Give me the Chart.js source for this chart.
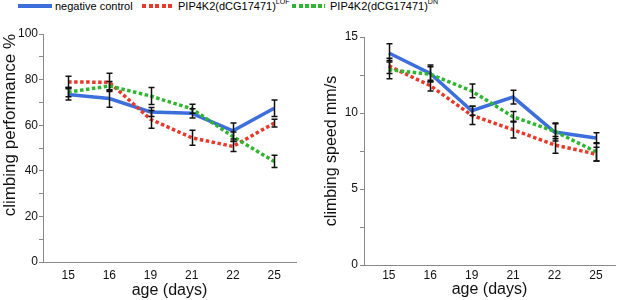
<!DOCTYPE html>
<html><head><meta charset="utf-8">
<script src="https://cdn.jsdelivr.net/npm/chart.js@4/dist/chart.umd.min.js"></script>
<style>
body{margin:0;width:617px;height:300px;background:#fff;overflow:hidden;position:relative;font-family:"Liberation Sans",Arial,sans-serif;}
canvas{position:absolute;top:0;}
#c1{left:0;}
#c2{left:305px;}
.leg{position:absolute;top:0;font-size:11px;line-height:13px;color:#000;white-space:nowrap;}
.sw{position:absolute;height:4px;top:4px;}
sup{font-size:7px;line-height:0;vertical-align:top;position:relative;top:2px;}
</style></head><body>
<div class="sw" style="left:18px;width:34px;background:#3c6fdc"></div>
<div class="leg" style="left:55px">negative control</div>
<div class="sw" style="left:142px;width:32px;background:repeating-linear-gradient(to right,#e83a2a 0 4px,transparent 4px 6.5px)"></div>
<div class="leg" style="left:178px">PIP4K2(dCG17471)<sup>LOF</sup></div>
<div class="sw" style="left:292px;width:33px;background:repeating-linear-gradient(to right,#2fb52f 0 4px,transparent 4px 6.5px)"></div>
<div class="leg" style="left:330px">PIP4K2(dCG17471)<sup>DN</sup></div>
<canvas id="c1" width="300" height="300"></canvas>
<canvas id="c2" width="312" height="300"></canvas>
<script>
const days = ['15', '16', '19', '21', '22', '25'];
const seriesNames = ['negative control', 'PIP4K2(dCG17471) LOF', 'PIP4K2(dCG17471) DN'];

// climbing performance %
const perfControl    = [73.5, 71.7, 65.8, 65.2, 57.5, 67.4];
const perfControlErr = [2.5, 3.8, 2.0, 2.0, 3.5, 3.6];
const perfLOF        = [79.0, 78.8, 62.6, 54.5, 50.7, 60.9];
const perfLOFErr     = [2.5, 4.0, 3.9, 3.3, 2.2, 1.7];
const perfDN         = [74.5, 77.2, 72.8, 67.2, 55.0, 44.1];
const perfDNErr      = [2.0, 2.0, 3.7, 2.0, 2.0, 2.7];

// climbing speed mm/s
const speedControl    = [13.95, 12.6, 10.15, 11.05, 8.75, 8.35];
const speedControlErr = [0.6, 0.55, 0.3, 0.45, 0.6, 0.35];
const speedLOF        = [13.1, 11.8, 9.85, 8.9, 7.9, 7.3];
const speedLOFErr     = [0.5, 0.35, 0.6, 0.55, 0.55, 0.45];
const speedDN         = [12.85, 12.55, 11.45, 9.75, 8.8, 7.45];
const speedDNErr      = [0.6, 0.5, 0.45, 0.35, 0.5, 0.6];

const perfTicks = [0, 20, 40, 60, 80, 100];
const speedTicks = [0, 5, 10, 15];

const BLUE = '#3c6fdc', RED = '#e83a2a', GREEN = '#2fb52f';
const FONT = '"Liberation Sans", Arial, sans-serif';

const toPts = arr => arr.map((v, i) => ({x: i, y: v}));

const errorBars = {
  id: 'errorBars',
  afterDatasetsDraw(chart) {
    const ctx = chart.ctx, xs = chart.scales.x, ys = chart.scales.y;
    ctx.save();
    ctx.strokeStyle = '#111';
    ctx.lineWidth = 1.5;
    chart.data.datasets.forEach(ds => {
      ds.data.forEach((p, i) => {
        const e = ds.errors[i];
        const x = Math.round(xs.getPixelForValue(p.x)) + 0.5;
        const y1 = ys.getPixelForValue(p.y + e), y2 = ys.getPixelForValue(p.y - e);
        ctx.beginPath();
        ctx.moveTo(x, y1); ctx.lineTo(x, y2);
        ctx.moveTo(x - 3, y1); ctx.lineTo(x + 3, y1);
        ctx.moveTo(x - 3, y2); ctx.lineTo(x + 3, y2);
        ctx.stroke();
      });
    });
    ctx.restore();
  }
};

function makeChart(id, sets, cfg) {
  const datasets = sets.map((s, k) => ({
    label: seriesNames[k],
    data: toPts(s.v),
    errors: s.e,
    borderColor: s.c,
    backgroundColor: s.c,
    borderWidth: 3.5,
    borderDash: k === 0 ? [] : [3.5, 2.5],
    borderCapStyle: 'butt',
    pointRadius: 0,
    tension: 0,
    order: 2 - k
  }));
  return new Chart(document.getElementById(id), {
    type: 'line',
    data: {datasets},
    plugins: [errorBars],
    options: {
      responsive: false, animation: false, devicePixelRatio: 1,
      layout: {padding: cfg.pad},
      plugins: {legend: {display: false}, tooltip: {enabled: false}},
      scales: {
        x: {
          type: 'linear', min: cfg.xmin, max: cfg.xmax,
          afterBuildTicks: sc => { sc.ticks = days.map((d, i) => ({value: i})); },
          afterFit: sc => { sc.height = cfg.xh; },
          grid: {display: false, drawTicks: false},
          border: {display: true, color: '#888', width: 1},
          ticks: {padding: cfg.xtp, color: '#111', font: {family: FONT, size: 12}, maxRotation: 0,
                  callback: v => days[v]},
          title: {display: true, text: 'age (days)', color: '#111', font: {family: FONT, size: 16},
                  padding: {top: 0, bottom: cfg.xtb}}
        },
        y: {
          min: 0, max: cfg.ymax,
          afterBuildTicks: sc => {
            const t = [];
            for (let v = 0; v <= cfg.ymax + 1e-9; v += cfg.step) t.push({value: v});
            sc.ticks = t;
          },
          afterFit: sc => { sc.width = cfg.yw; },
          grid: {display: true, drawOnChartArea: false, drawTicks: true, tickLength: 4, color: '#888'},
          border: {display: true, color: '#888', width: 1},
          ticks: {padding: cfg.ytp, color: '#111', font: {family: FONT, size: 12},
                  callback: v => cfg.labels.includes(v) ? String(v) : ''},
          title: {display: true, text: cfg.ytitle, color: '#111', align: cfg.yalign,
                  font: {family: FONT, size: cfg.yfs}, padding: {top: cfg.ytt, bottom: 0}}
        }
      }
    }
  });
}

makeChart('c1', [
  {v: perfControl, e: perfControlErr, c: BLUE},
  {v: perfLOF, e: perfLOFErr, c: RED},
  {v: perfDN, e: perfDNErr, c: GREEN}
], {pad: {top: 34, right: 4, left: 0, bottom: 0}, xmin: -0.61, xmax: 5.53, xh: 38, xtp: 6, xtb: 0,
    ymax: 100, step: 10, labels: perfTicks, yw: 43, ytp: 1, ytitle: 'climbing performance %',
    yalign: 'end', yfs: 17, ytt: 0});

makeChart('c2', [
  {v: speedControl, e: speedControlErr, c: BLUE},
  {v: speedLOF, e: speedLOFErr, c: RED},
  {v: speedDN, e: speedDNErr, c: GREEN}
], {pad: {top: 37, right: 2, left: 15, bottom: 0}, xmin: -0.6, xmax: 5.46, xh: 35, xtp: 3, xtb: 1,
    ymax: 15, step: 2.5, labels: speedTicks, yw: 44, ytp: 2, ytitle: 'climbing speed mm/s',
    yalign: 'center', yfs: 16, ytt: 2});
</script>
</body></html>
